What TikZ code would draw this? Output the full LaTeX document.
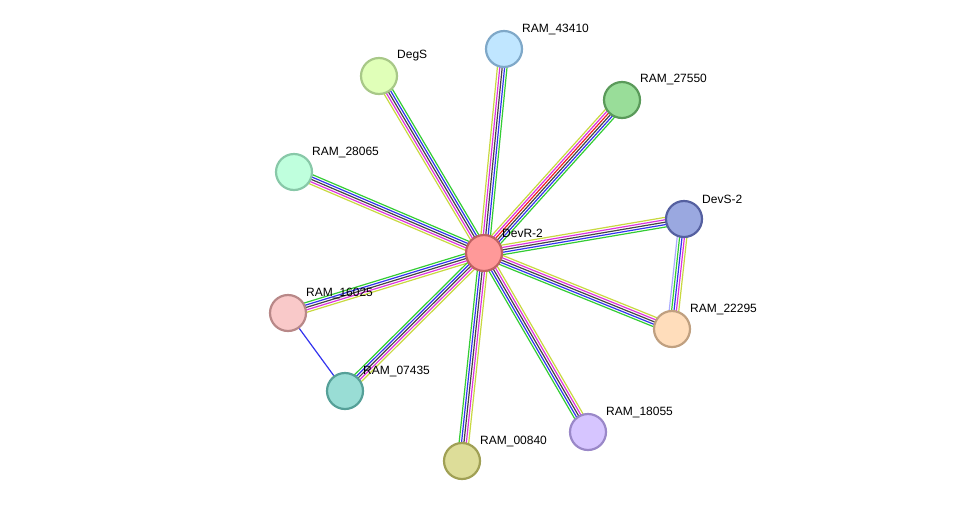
\documentclass[tikz,border=0pt]{standalone}
\usepackage{fontspec}
\setmainfont{Liberation Sans}
\usetikzlibrary{calc,backgrounds}
\definecolor{eg}{HTML}{33CC33}
\definecolor{eb}{HTML}{3333EE}
\definecolor{ek}{HTML}{444444}
\definecolor{em}{HTML}{DD33DD}
\definecolor{ey}{HTML}{C8D840}
\definecolor{er}{HTML}{EE2222}
\definecolor{el}{HTML}{AAAAFF}
\newcommand\medge[3]{%
  \foreach \c [count=\i] in {#3} {
    \pgfmathsetmacro\o{(\i-1)*2.4-#1}
    \draw[\c,line width=1.2pt] ($(#2)!\o pt!90:(\currtgt)$) -- ($(\currtgt)!\o pt!-90:(#2)$);
  }}
\begin{document}
\begin{tikzpicture}[x=1pt,y=-1pt,
  prot/.style={circle,minimum size=36pt,inner sep=0pt,line width=2.2pt},
  lab/.style={anchor=west,font=\fontsize{12}{14}\selectfont,inner sep=1pt}]
\useasboundingbox (0,0) rectangle (976,507);
\def\P#1#2#3#4#5{\definecolor{f#1}{HTML}{#4}\definecolor{b#1}{HTML}{#5}\node[prot,fill=f#1,draw=b#1] (#1) at (#2,#3) {};}
\P{d}{484}{253}{FF9999}{C06262}
\P{a}{504}{49}{C0E6FF}{7FA8C8}
\P{g}{379}{76}{E0FFB8}{A8C888}
\P{b}{622}{100}{99DD99}{5A9A5A}
\P{c}{294}{172}{BFFFDD}{88C8A8}
\P{s}{684}{219}{9AA8E0}{5560A0}
\P{f}{288}{313}{F9C9C9}{B88888}
\P{h}{672}{329}{FFDDBB}{C0A080}
\P{k}{345}{391}{99DDD5}{55A098}
\P{m}{588}{432}{D6C5FF}{9A88C8}
\P{n}{462}{461}{DDDD99}{A0A055}
\node[lab] at (501,233) {DevR-2};
\node[lab] at (521,29) {RAM\_43410};
\node[lab] at (396,56) {DegS};
\node[lab] at (639,79) {RAM\_27550};
\node[lab] at (311,152) {RAM\_28065};
\node[lab] at (701,199) {DevS-2};
\node[lab] at (305,293) {RAM\_16025};
\node[lab] at (689,309) {RAM\_22295};
\node[lab] at (362,371) {RAM\_07435};
\node[lab] at (605,412) {RAM\_18055};
\node[lab] at (479,441) {RAM\_00840};
\begin{pgfonlayer}{background}
\foreach \t in {a,g,c,s,f,h,k,m,n}{
  \def\currtgt{\t}
  \medge{4.8}{d}{eg,eb,ek,em,ey}
}
\def\currtgt{b}\medge{6}{d}{eg,eb,ek,er,em,ey}
\def\currtgt{h}\medge{4.8}{s}{el,eg,eb,em,ey}
\draw[eb,line width=1.2pt] (f) -- (k);
\end{pgfonlayer}
\end{tikzpicture}
\end{document}
